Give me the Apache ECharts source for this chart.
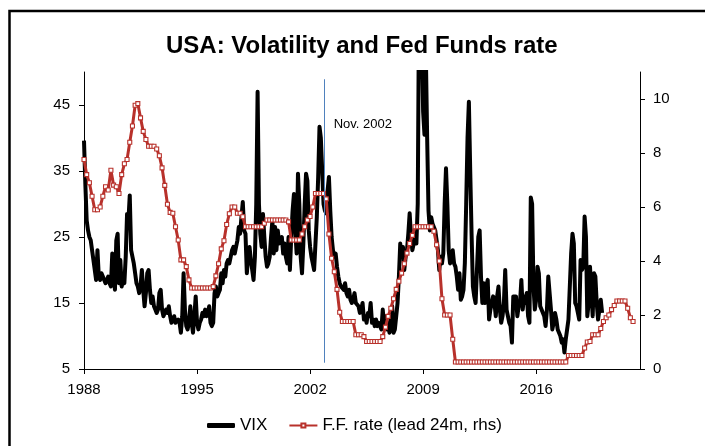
<!DOCTYPE html>
<html>
<head>
<meta charset="utf-8">
<script src="https://cdn.jsdelivr.net/npm/echarts@6/dist/echarts.min.js"></script>
<style>
  html, body { margin: 0; padding: 0; background: #fff; }
  #chart { width: 705px; height: 446px; }
</style>
</head>
<body>
<div id="chart"></div>
<script>
// ---------------- DATA ----------------
const titleText = 'USA: Volatility and Fed Funds rate';
const seriesNames = ['VIX', 'F.F. rate (lead 24m, rhs)'];
const xTicks = [1988, 1995, 2002, 2009, 2016];
const yLeftTicks = [5, 15, 25, 35, 45];
const yRightTicks = [0, 2, 4, 6, 8, 10];

// VIX, monthly from Jan 1988
const vixStart = 1988;
const vix = [
  39.6, 33, 27.5, 26, 25, 24.5, 23, 21.5, 20, 18.5, 23, 19,            // 1988
  18.5, 19.5, 19, 18.5, 18, 18.5, 19, 18, 17.5, 22.5, 19, 17,          // 1989
  24.5, 25.5, 18, 21.5, 17.5, 18.5, 18, 22, 28.5, 27.5, 31.3, 23,      // 1990
  23, 21, 19.5, 18, 17.5, 16.5, 17.5, 20, 17, 14.5, 16.5, 19.5,        // 1991
  20, 17, 15, 16, 14.5, 14, 13.5, 14, 16.5, 17, 14, 13,                // 1992
  13, 14, 13.5, 14.5, 13, 12, 12.5, 13, 12, 12, 12.5, 12,              // 1993
  10.5, 13, 19.5, 14, 11.5, 11, 12, 14.5, 12, 10.5, 13, 16,            // 1994
  12, 11, 12, 12.5, 13.5, 13, 14, 13, 13.5, 14.5, 12, 11.5,            // 1995
  12, 16.5, 17.5, 16, 16.5, 17, 19.5, 18, 20, 19, 21, 21.5,            // 1996
  21, 22, 23, 23.5, 22.5, 23.5, 24.5, 26.5, 25.5, 28, 30.3, 26,        // 1997
  25.5, 19.5, 22, 23.5, 21.5, 20, 18.5, 22, 30, 47, 30, 25.5,          // 1998
  23.5, 28.5, 25, 22, 20.5, 21, 22, 25, 27.5, 22.5, 26.5, 23,          // 1999
  26, 24, 24.5, 25, 22.5, 24, 22, 21, 25, 20, 25, 29,                  // 2000
  31.5, 26, 22.5, 34.6, 30, 22, 19.5, 24, 30, 34.6, 33.5, 26,          // 2001
  23.5, 22, 21, 20, 24, 28, 34, 41.7, 40, 35, 30, 29,                  // 2002
  28.6, 32, 34.1, 29, 25, 23, 22, 22.5, 20.5, 19, 18, 17.5,            // 2003
  17.5, 17, 18, 16.5, 16, 17, 15.5, 15, 15.5, 16.5, 15, 15,            // 2004
  14.5, 13.5, 14, 15, 12.5, 13, 12, 13.5, 13, 15, 12, 12.5,            // 2005
  11.5, 12.5, 11.5, 12, 12, 11, 14, 11.5, 13, 11, 12, 10.5,            // 2006
  13.5, 14.5, 10.5, 11, 13, 15, 19, 24, 22, 23.5, 20, 22,              // 2007
  23, 25.5, 28.6, 25, 23, 24, 26.5, 24, 30, 62, 68, 56,                // 2008
  44, 40.5, 53, 40, 29, 26, 28, 27, 27, 26, 24.5, 23,                  // 2009
  20, 22, 21, 22.5, 30, 35.4, 30, 23, 21, 21.5, 23, 21,                // 2010
  20.5, 19, 17, 19.5, 15.5, 16, 17, 21, 30, 40, 45.5, 35,              // 2011
  25.5, 17.5, 16, 15, 15, 25, 26, 19, 15, 18, 15, 17.5,                // 2012
  18.5, 12.5, 14, 15, 16, 15, 13, 16, 17.5, 14, 12, 13,                // 2013
  15, 20, 14, 13, 12, 11.5, 9, 16, 16, 16, 13, 14.5,                   // 2014
  15, 18.5, 14, 16, 15, 16.5, 13, 12, 31, 30, 17.5, 14,                // 2015
  15.5, 20.5, 19.5, 14.5, 14, 14, 13, 11.5, 14, 19, 19, 14,            // 2016
  11, 12, 13.5, 12.5, 11, 10.5, 10, 9, 9.5, 7.5, 9.5, 11,              // 2017
  12.5, 17.5, 22.5, 25.5, 24, 15, 14.5, 13.5, 12.5, 21.5, 20, 20.5,    // 2018
  28.1, 25, 13, 15, 20.5, 20.5, 13, 19.5, 19, 15, 12.5, 14,            // 2019
  15.5, 13.5                                                           // 2020
];

// Fed Funds rate led 24 months, every two months from Jan 1988 (plotted date)
const ffStart = 1988;
const ff = [
  7.76, 7.2, 6.9, 6.4, 5.9, 5.9,        // 1988
  6.0, 6.4, 6.75, 6.63, 7.36, 6.81,     // 1989
  6.75, 6.5, 7.2, 7.6, 7.76, 8.4,       // 1990
  9.0, 9.77, 9.83, 9.3, 8.8, 8.5,       // 1991
  8.25, 8.25, 8.25, 8.15, 7.9, 7.45,    // 1992
  6.8, 6.1, 5.8, 5.77, 5.27, 4.78,      // 1993
  4.04, 4.04, 3.79, 3.3, 3.0, 3.0,      // 1994
  3.0, 3.0, 3.0, 3.0, 3.0, 3.0,         // 1995
  3.05, 3.45, 3.9, 4.45, 4.75, 5.35,    // 1996
  5.75, 6.0, 6.0, 5.77, 5.77, 5.64,     // 1997
  5.27, 5.27, 5.27, 5.27, 5.27, 5.27,   // 1998
  5.27, 5.4, 5.52, 5.52, 5.52, 5.52,    // 1999
  5.52, 5.52, 5.52, 5.52, 5.45, 4.78,   // 2000
  4.78, 4.78, 4.78, 5.0, 5.27, 5.52,    // 2001
  5.65, 6.0, 6.5, 6.5, 6.5, 6.5,        // 2002
  6.3, 5.0, 4.1, 3.6, 2.95, 2.1,        // 2003
  1.76, 1.76, 1.76, 1.76, 1.76, 1.27,   // 2004
  1.27, 1.27, 1.2, 1.02, 1.02, 1.02,    // 2005
  1.02, 1.02, 1.02, 1.2, 1.55, 1.95,    // 2006
  2.25, 2.6, 2.95, 3.25, 3.55, 3.9,     // 2007
  4.29, 4.65, 4.95, 5.27, 5.27, 5.27,   // 2008
  5.27, 5.27, 5.27, 5.27, 5.1, 4.6,     // 2009
  4.0, 2.6, 2.0, 2.0, 2.0, 1.1,         // 2010
  0.26, 0.26, 0.26, 0.26, 0.26, 0.26,   // 2011
  0.26, 0.26, 0.26, 0.26, 0.26, 0.26,   // 2012
  0.26, 0.26, 0.26, 0.26, 0.26, 0.26,   // 2013
  0.26, 0.26, 0.26, 0.26, 0.26, 0.26,   // 2014
  0.26, 0.26, 0.26, 0.26, 0.26, 0.26,   // 2015
  0.26, 0.26, 0.26, 0.26, 0.26, 0.26,   // 2016
  0.26, 0.26, 0.26, 0.26, 0.26, 0.26,   // 2017
  0.5, 0.5, 0.5, 0.5, 0.5, 0.5,         // 2018
  0.78, 1.0, 1.02, 1.27, 1.27, 1.27,    // 2019
  1.5, 1.76, 1.9, 2.0, 2.2, 2.35,       // 2020
  2.52, 2.52, 2.52, 2.52, 2.25, 1.9,    // 2021
  1.76                                  // 2022
];

// Annotation: vertical marker at Nov. 2002 (x in years, y span on the VIX axis)
const markerLabel = 'Nov. 2002';
const markerX = 2002.875;
const markerYFrom = 5.95;
const markerYTo = 48.9;
const markerLabelY = 42;

// ---------------- CHART ----------------
const vixData = vix.map((v, i) => [vixStart + i / 12, v]);
const ffData = ff.map((v, i) => [ffStart + i / 6, v]);

const FONT = 'Liberation Sans, Arial, sans-serif';
const RED = '#B8312B';

const chart = echarts.init(document.getElementById('chart'), null, { renderer: 'canvas' });
chart.setOption({
  animation: false,
  backgroundColor: '#fff',
  textStyle: { fontFamily: FONT, color: '#000' },
  title: {
    text: titleText,
    left: 166, top: 34, padding: 0,
    textStyle: { fontFamily: FONT, fontSize: 24, fontWeight: 'bold', color: '#000' }
  },
  graphic: [{
    type: 'rect', silent: true, z: -1,
    shape: { x: 9.5, y: 11, width: 800, height: 600 },
    style: { fill: 'none', stroke: '#000', lineWidth: 2.5 }
  }],
  legend: {
    data: [{ name: seriesNames[0], icon: 'roundRect' }, { name: seriesNames[1] }],
    left: 207, top: 417, padding: 0,
    itemWidth: 28, itemHeight: 5, itemGap: 21,
    textStyle: { fontFamily: FONT, fontSize: 17, color: '#000' }
  },
  grid: { left: 84, right: 65, top: 72, bottom: 77 },
  xAxis: {
    type: 'value', min: 1988, max: 2022.43,
    axisLine: { show: true, lineStyle: { color: '#000', width: 1 } },
    axisTick: { show: true, customValues: xTicks, length: 5, lineStyle: { color: '#000' } },
    axisLabel: { customValues: xTicks, formatter: v => String(v), fontSize: 15, color: '#000', margin: 13, fontFamily: FONT },
    splitLine: { show: false }
  },
  yAxis: [{
    type: 'value', min: 5, max: 50, position: 'left',
    axisLine: { show: true, lineStyle: { color: '#000', width: 1 } },
    axisTick: { show: true, customValues: yLeftTicks, length: 5, lineStyle: { color: '#000' } },
    axisLabel: { customValues: yLeftTicks, fontSize: 15, color: '#000', margin: 14, fontFamily: FONT },
    splitLine: { show: false }
  }, {
    type: 'value', min: 0, max: 11, position: 'right',
    axisLine: { show: true, lineStyle: { color: '#000', width: 1 } },
    axisTick: { show: true, customValues: yRightTicks, length: 5, lineStyle: { color: '#000' } },
    axisLabel: { customValues: yRightTicks, fontSize: 15, color: '#000', margin: 13, fontFamily: FONT },
    splitLine: { show: false }
  }],
  series: [{
    name: seriesNames[0],
    type: 'line',
    data: vixData,
    yAxisIndex: 0,
    symbol: 'none',
    showSymbol: false,
    clip: true,
    lineStyle: { color: '#000', width: 4, join: 'round' },
    itemStyle: { color: '#000' },
    z: 2,
    markLine: {
      silent: true, symbol: ['none', 'none'],
      label: { show: false },
      lineStyle: { color: '#4F81BD', width: 1, type: 'solid' },
      data: [[{ coord: [markerX, markerYFrom] }, { coord: [markerX, markerYTo] }]]
    },
    markPoint: {
      silent: true,
      symbol: 'rect', symbolSize: 1,
      itemStyle: { color: 'rgba(0,0,0,0)' },
      label: { show: true, position: 'right', distance: 9, formatter: markerLabel, fontSize: 13, color: '#000', fontFamily: FONT },
      data: [{ coord: [markerX, markerLabelY] }]
    }
  }, {
    name: seriesNames[1],
    type: 'line',
    data: ffData,
    yAxisIndex: 1,
    symbol: 'rect',
    symbolSize: 4,
    showSymbol: true,
    showAllSymbol: true,
    lineStyle: { color: RED, width: 3 },
    itemStyle: { color: '#fff', borderColor: RED, borderWidth: 1.1 },
    z: 3
  }]
});
</script>
</body>
</html>
